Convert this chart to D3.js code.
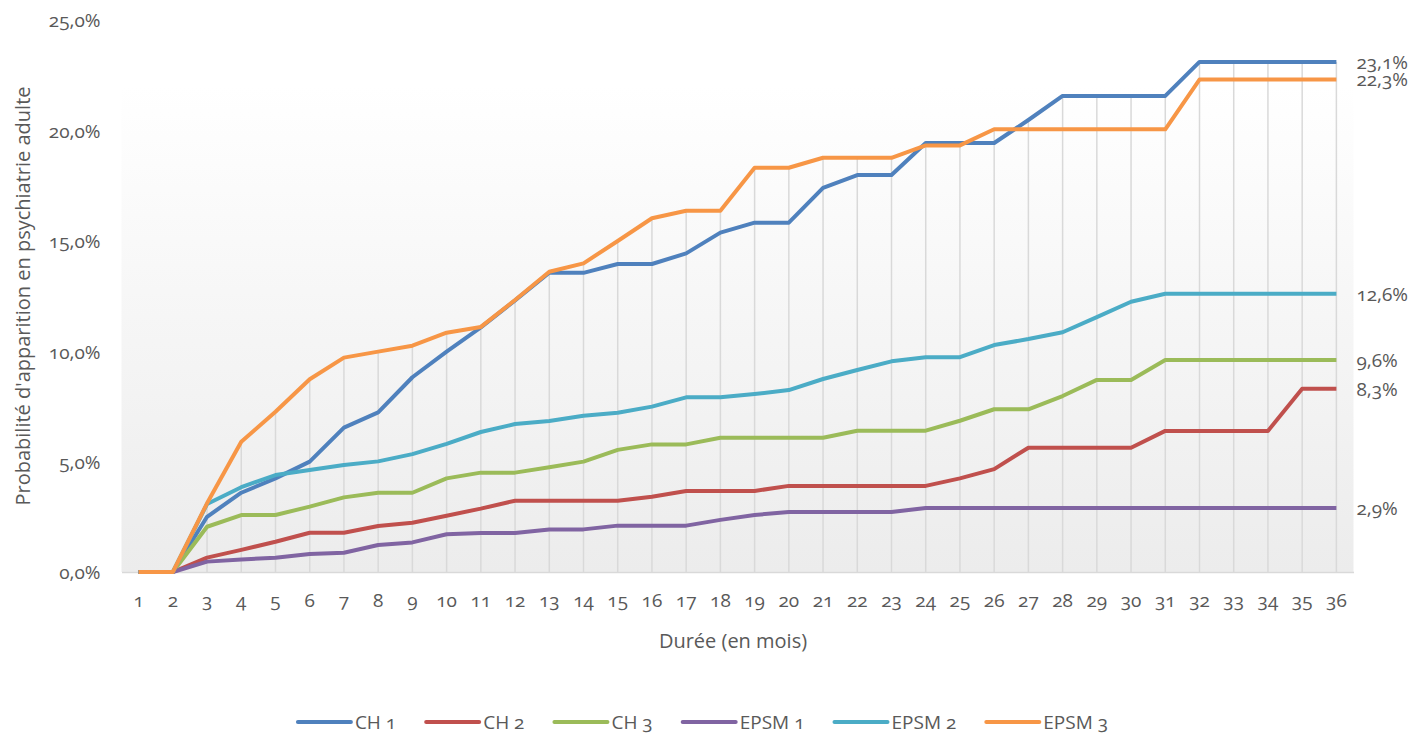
<!DOCTYPE html>
<html lang="fr">
  <head>
    <meta charset="utf-8"/>
    <script src="https://d3js.org/d3.v7.min.js"></script>
    <title>Probabilité d'apparition</title>
    <style>
      body { margin: 0; background: #fff; }
      svg text { font-family: "Open Sans", sans-serif; fill: #595959; font-variant-numeric: oldstyle-nums; }
    </style>
  </head>
  <body>
    <svg id="chart"></svg>

  <script>
    // données (en %)
    const months = [1,2,3,4,5,6,7,8,9,10,11,12,13,14,15,16,17,18,19,20,21,22,23,24,25,26,27,28,29,30,31,32,33,34,35,36];
    const ch1   = [0,0,2.5,3.59,4.24,5.0,6.54,7.23,8.82,9.98,11.08,12.3,13.55,13.55,13.95,13.95,14.43,15.37,15.82,15.82,17.4,17.98,17.98,19.43,19.43,19.43,20.47,21.56,21.56,21.56,21.56,23.1,23.1,23.1,23.1,23.1];
    const ch2   = [0,0,0.65,1.0,1.37,1.78,1.78,2.08,2.23,2.55,2.87,3.23,3.23,3.23,3.23,3.41,3.67,3.67,3.67,3.9,3.9,3.9,3.9,3.9,4.24,4.66,5.63,5.63,5.63,5.63,6.39,6.39,6.39,6.39,8.3,8.3];
    const ch3   = [0,0,2.05,2.58,2.58,2.96,3.38,3.59,3.59,4.24,4.5,4.5,4.74,5.0,5.53,5.78,5.78,6.08,6.08,6.08,6.08,6.4,6.4,6.4,6.85,7.37,7.37,7.97,8.7,8.7,9.6,9.6,9.6,9.6,9.6,9.6];
    const epsm1 = [0,0,0.47,0.57,0.65,0.82,0.87,1.22,1.34,1.71,1.77,1.77,1.93,1.93,2.1,2.1,2.1,2.36,2.58,2.72,2.72,2.72,2.72,2.9,2.9,2.9,2.9,2.9,2.9,2.9,2.9,2.9,2.9,2.9,2.9,2.9];
    const epsm2 = [0,0,3.08,3.84,4.39,4.62,4.85,5.01,5.34,5.8,6.34,6.7,6.84,7.08,7.21,7.49,7.91,7.91,8.06,8.24,8.74,9.15,9.54,9.73,9.73,10.28,10.55,10.86,11.54,12.24,12.6,12.6,12.6,12.6,12.6,12.6];
    const epsm3 = [0,0,3.11,5.9,7.26,8.73,9.71,9.98,10.25,10.84,11.1,12.32,13.6,13.98,14.99,16.02,16.36,16.36,18.31,18.31,18.76,18.76,18.76,19.32,19.32,20.05,20.05,20.05,20.05,20.05,20.05,22.3,22.3,22.3,22.3,22.3];
    const seriesNames = ["CH 1", "CH 2", "CH 3", "EPSM 1", "EPSM 2", "EPSM 3"];
    const yTicks = [0, 5, 10, 15, 20, 25];

    const colors = ["#4f81bd", "#c0504d", "#9bbb59", "#8064a2", "#4bacc6", "#f79646"];
    const series = [ch1, ch2, ch3, epsm1, epsm2, epsm3].map((values, i) => ({
      name: seriesNames[i],
      color: colors[i],
      values: values
    }));

    const W = 1415, H = 734;
    const plot = {left: 121.5, right: 1353.5, top: 20, bottom: 572};

    const svg = d3.select("#chart")
      .attr("width", W)
      .attr("height", H);

    const fr = d3.formatLocale({decimal: ",", thousands: " ", grouping: [3], currency: ["", "€"]});
    const pct = (v) => fr.format(".1f")(v) + "%";

    const x = d3.scaleBand()
      .domain(months)
      .range([plot.left, plot.right]);
    const cx = (m) => x(m) + x.bandwidth() / 2;

    const y = d3.scaleLinear()
      .domain([0, 25])
      .range([plot.bottom, plot.top]);

    // fond dégradé
    const grad = svg.append("defs").append("linearGradient")
      .attr("id", "bg")
      .attr("x1", 0).attr("y1", 0).attr("x2", 0).attr("y2", 1);
    grad.append("stop").attr("offset", "0%").attr("stop-color", "#ffffff");
    grad.append("stop").attr("offset", "100%").attr("stop-color", "#ececec");

    svg.append("rect")
      .attr("x", plot.left)
      .attr("y", y(22))
      .attr("width", plot.right - plot.left)
      .attr("height", plot.bottom - y(22))
      .attr("fill", "url(#bg)");

    // lignes de projection
    svg.append("g")
      .selectAll("line")
      .data(months)
      .join("line")
        .attr("x1", (m) => cx(m))
        .attr("x2", (m) => cx(m))
        .attr("y1", y(0))
        .attr("y2", (m, i) => y(d3.max(series, (s) => s.values[i])))
        .attr("stroke", "#d9d9d9")
        .attr("stroke-width", 1.5);

    // axe des abscisses
    const xAxis = svg.append("g")
      .attr("transform", "translate(0," + plot.bottom + ")")
      .call(d3.axisBottom(x).tickSize(0).tickPadding(22));
    xAxis.select(".domain")
      .attr("stroke", "#d9d9d9")
      .attr("stroke-width", 1.5);
    xAxis.selectAll("text")
      .style("font-size", "19px")
      .attr("fill", "#595959");

    const yAxis = svg.append("g")
      .attr("transform", "translate(" + plot.left + ",0)")
      .call(d3.axisLeft(y).tickValues(yTicks).tickSize(0).tickPadding(21).tickFormat(pct));
    yAxis.select(".domain").remove();
    yAxis.selectAll("text")
      .style("font-size", "19px")
      .attr("fill", "#595959")
      .attr("dy", "0.36em");

    // courbes
    const line = d3.line()
      .x((d, i) => cx(months[i]))
      .y((d) => y(d));

    svg.append("g")
      .selectAll("path")
      .data(series)
      .join("path")
        .attr("d", (s) => line(s.values))
        .attr("fill", "none")
        .attr("stroke", (s) => s.color)
        .attr("stroke-width", 4)
        .attr("stroke-linejoin", "round");

    // étiquettes finales
    svg.append("g")
      .selectAll("text")
      .data(series)
      .join("text")
        .attr("x", cx(months[months.length - 1]) + 20)
        .attr("y", (s) => y(s.values[s.values.length - 1]))
        .attr("dy", "0.36em")
        .style("font-size", "19px")
        .text((s) => pct(s.values[s.values.length - 1]));

    // titres des axes
    svg.append("text")
      .attr("transform", "translate(30," + (plot.top + plot.bottom) / 2 + ") rotate(-90)")
      .attr("text-anchor", "middle")
      .style("font-size", "20px")
      .text("Probabilité d'apparition en psychiatrie adulte");

    svg.append("text")
      .attr("x", 733)
      .attr("y", 648)
      .attr("text-anchor", "middle")
      .style("font-size", "20px")
      .text("Durée (en mois)");

    // légende
    const legend = svg.append("g");
    const items = legend.selectAll("g")
      .data(series)
      .join("g");
    items.append("line")
      .attr("x1", 0).attr("x2", 53)
      .attr("y1", 0).attr("y2", 0)
      .attr("stroke", (s) => s.color)
      .attr("stroke-width", 4)
      .attr("stroke-linecap", "round");
    items.append("text")
      .attr("x", 57)
      .attr("dy", "0.36em")
      .style("font-size", "19px")
      .text((s) => s.name);

    let offset = 0;
    const widths = [];
    items.each(function() {
      widths.push(57 + this.querySelector("text").getComputedTextLength());
    });
    const total = d3.sum(widths) + 30 * (widths.length - 1);
    const startX = 703 - total / 2;
    items.attr("transform", (s, i) => {
      const t = "translate(" + (startX + offset) + ",722)";
      offset += widths[i] + 30;
      return t;
    });
  </script>
  </body>
</html>
